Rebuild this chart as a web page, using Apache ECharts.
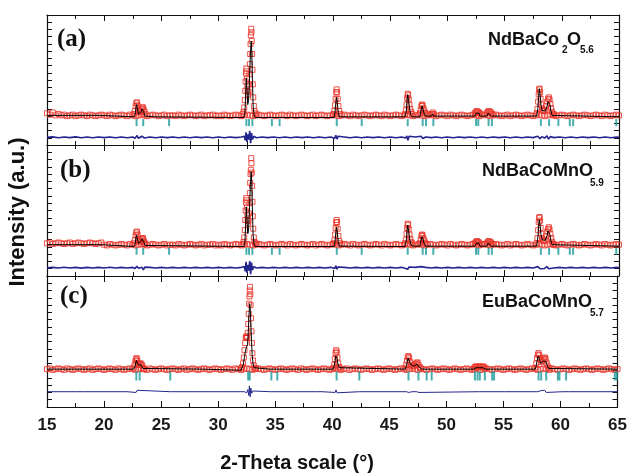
<!DOCTYPE html>
<html>
<head>
<meta charset="utf-8">
<script src="https://cdn.jsdelivr.net/npm/echarts@6/dist/echarts.min.js"></script>
<style>
html,body{margin:0;padding:0;background:#fff}
#chart{width:630px;height:473px}
</style>
</head>
<body>
<div id="chart"></div>
<script>
// Rietveld refinement plots: observed (squares), calculated (black), difference (blue), Bragg positions (teal)
const xTicks = [15, 20, 25, 30, 35, 40, 45, 50, 55, 60, 65];
const bgStart = 15, bgStep = 0.25;

// Observed background counts on the 0.25 deg scan grid, 15..65 deg
const bgA = [
44,42,45,41,43,41,42,40,41,42,40,41,42,41,40,42,41,40,41,42,
41,40,42,41,40,41,42,41,40,42,41,40,41,42,41,40,41,42,41,40,
41,42,40,41,41,40,42,41,40,41,42,41,40,41,42,40,41,41,42,40,
41,40,42,41,40,41,42,41,40,41,42,41,40,41,42,41,40,41,42,41,
40,41,42,41,40,42,41,40,41,42,41,40,41,42,40,41,42,41,40,41,
42,41,40,41,42,41,40,42,41,40,41,42,41,40,41,42,41,40,42,41,
40,41,42,41,40,41,42,41,40,41,42,41,40,41,42,41,40,41,42,41,
40,42,41,40,41,42,41,40,41,42,41,40,41,42,41,40,41,42,41,40,
41,42,40,41,42,41,40,41,42,41,40,41,42,41,40,41,42,41,40,41,
42,41,40,41,42,41,40,41,42,41,40,41,42,41,40,42,41,40,41,42,
41];
const bgB = [
45,46,44,45,46,45,44,45,46,44,45,46,45,44,45,46,45,44,45,46,
43,42,44,43,42,43,44,43,42,44,43,42,43,44,43,42,43,44,43,42,
43,44,42,43,43,42,44,43,42,43,44,43,42,43,44,42,43,43,44,42,
43,42,44,43,42,43,44,43,42,43,44,43,42,43,44,43,42,43,44,43,
42,43,44,43,42,44,43,42,43,44,43,42,43,44,42,43,44,43,42,43,
44,43,42,43,44,43,42,44,43,42,43,44,43,42,43,44,43,42,44,43,
42,43,44,43,42,43,44,43,42,43,44,43,42,43,44,43,42,43,44,43,
42,44,43,42,43,44,43,42,43,44,43,42,43,44,43,42,43,44,43,42,
43,44,42,43,44,43,42,43,44,43,42,43,44,43,42,43,44,43,42,43,
44,43,42,43,44,43,42,43,44,43,42,43,44,43,42,44,43,42,43,44,
43];
const bgC = [
52,53,51,52,53,52,51,53,52,51,52,53,52,51,52,53,51,52,53,52,
51,52,53,52,51,53,52,51,52,53,52,51,52,53,52,51,53,52,51,52,
53,52,51,52,53,52,51,52,53,51,52,53,52,51,52,53,52,51,52,53,
52,51,52,53,52,51,53,52,51,52,53,52,51,52,53,52,51,52,53,52,
51,52,53,52,51,52,53,52,51,53,52,51,52,53,52,51,52,53,52,51,
52,53,52,51,52,53,51,52,53,52,51,52,53,52,51,52,53,52,51,52,
53,52,51,52,53,52,51,52,53,52,51,53,52,51,52,53,52,51,52,53,
52,51,52,53,52,51,52,53,52,51,52,53,51,52,53,52,51,52,53,52,
51,52,53,52,51,52,53,52,51,52,53,52,51,52,53,52,51,53,52,51,
52,53,52,51,52,53,52,51,52,53,52,51,52,53,52,51,52,53,52,51,
52];

// Observed counts across the reflections [2theta, I]
const peaksA = [
[22.6,43],[22.68,47],[22.75,54],[22.81,58],[22.86,59],[22.92,55],[22.98,49],[23.05,46],[23.12,45],[23.2,47],[23.27,50],[23.33,52],[23.39,52],[23.45,49],[23.52,46],[23.6,43],
[32.1,43],[32.18,46],[32.24,52],[32.29,62],[32.33,75],[32.36,88],[32.39,99],[32.42,106],[32.45,102],[32.48,92],[32.51,82],[32.54,74],[32.58,70],[32.62,74],[32.66,84],[32.7,98],[32.73,112],[32.76,126],[32.79,140],[32.82,152],[32.85,161],[32.87,156],[32.9,144],[32.93,126],[32.96,104],[32.99,84],[33.03,66],[33.08,54],[33.14,47],[33.22,44],[33.3,42],
[40.05,43],[40.12,47],[40.18,55],[40.23,64],[40.28,73],[40.32,77],[40.36,73],[40.41,64],[40.47,54],[40.54,47],[40.62,43],
[46.3,43],[46.37,48],[46.43,56],[46.48,65],[46.53,71],[46.57,69],[46.62,63],[46.68,56],[46.75,50],[46.83,46],[46.92,43],
[47.6,44],[47.67,49],[47.73,54],[47.78,56],[47.83,55],[47.9,51],[47.97,48],[48.05,45],[48.15,43],
[48.65,43],[48.72,45],[48.8,43],
[52.4,44],[52.5,46],[52.58,47],[52.68,46],[52.78,45],[52.88,43],[53.45,44],[53.53,46],[53.62,47],[53.72,46],[53.82,45],[53.92,43],
[57.8,44],[57.87,50],[57.93,60],[57.98,70],[58.02,77],[58.06,78],[58.1,73],[58.15,64],[58.2,56],[58.27,51],[58.35,48],[58.45,47],[58.55,49],[58.64,54],[58.72,60],[58.8,64],[58.87,66],[58.93,63],[59.0,57],[59.07,51],[59.15,46],[59.25,43],[59.35,42]
];
const peaksB = [
[22.6,45],[22.68,49],[22.75,56],[22.81,60],[22.86,61],[22.92,57],[22.98,51],[23.05,48],[23.12,47],[23.2,48],[23.27,51],[23.33,52],[23.39,52],[23.45,49],[23.52,46],[23.6,44],
[32.1,44],[32.18,47],[32.24,53],[32.29,63],[32.33,77],[32.36,90],[32.39,101],[32.42,107],[32.45,104],[32.48,94],[32.51,84],[32.54,76],[32.58,72],[32.62,76],[32.66,86],[32.7,100],[32.73,114],[32.76,128],[32.79,140],[32.82,146],[32.85,162],[32.87,155],[32.9,142],[32.93,124],[32.96,102],[32.99,82],[33.03,65],[33.08,53],[33.14,47],[33.22,45],[33.3,44],
[40.05,45],[40.12,49],[40.18,57],[40.23,66],[40.28,74],[40.32,77],[40.36,74],[40.41,65],[40.47,55],[40.54,48],[40.62,45],
[46.3,45],[46.37,50],[46.43,58],[46.48,66],[46.53,72],[46.57,70],[46.62,64],[46.68,57],[46.75,51],[46.83,47],[46.92,45],
[47.6,45],[47.67,50],[47.73,55],[47.78,57],[47.83,56],[47.9,52],[47.97,49],[48.05,46],[48.15,44],
[52.4,45],[52.5,47],[52.58,48],[52.68,47],[52.78,46],[52.88,44],[53.45,45],[53.53,47],[53.62,48],[53.72,47],[53.82,46],[53.92,44],
[57.8,45],[57.87,52],[57.93,63],[57.98,74],[58.02,80],[58.06,81],[58.1,76],[58.15,66],[58.2,58],[58.27,52],[58.35,49],[58.45,48],[58.55,50],[58.64,55],[58.72,61],[58.8,65],[58.87,67],[58.93,64],[59.0,58],[59.07,52],[59.15,47],[59.25,44],[59.35,43]
];
const peaksC = [
[22.6,54],[22.68,58],[22.75,63],[22.81,66],[22.86,67],[22.92,64],[22.98,60],[23.05,58],[23.12,58],[23.2,60],[23.27,59],[23.34,57],[23.42,54],[23.5,52],
[32.0,53],[32.1,55],[32.18,60],[32.25,68],[32.31,78],[32.37,88],[32.42,95],[32.46,97],[32.5,96],[32.55,95],[32.6,102],[32.64,114],[32.68,128],[32.71,142],[32.74,152],[32.77,160],[32.79,165],[32.82,155],[32.85,140],[32.88,122],[32.92,104],[32.96,88],[33.0,74],[33.05,64],[33.12,57],[33.2,54],[33.3,53],
[40.1,54],[40.17,58],[40.23,66],[40.29,74],[40.34,78],[40.39,76],[40.45,68],[40.52,60],[40.6,55],[40.7,53],
[46.4,54],[46.48,58],[46.55,64],[46.62,69],[46.68,70],[46.74,67],[46.82,62],[46.9,58],[47.0,56],[47.1,56],[47.2,57],[47.3,59],[47.4,61],[47.48,61],[47.56,58],[47.65,55],[47.75,53],
[52.4,53],[52.5,55],[52.6,56],[52.7,55],[52.8,55],[52.9,56],[53.0,55],[53.1,55],[53.2,56],[53.3,55],[53.4,53],
[57.8,54],[57.88,60],[57.95,67],[58.02,72],[58.08,74],[58.14,71],[58.2,66],[58.28,62],[58.36,63],[58.45,65],[58.55,67],[58.63,68],[58.7,66],[58.78,61],[58.86,57],[58.95,54],[59.05,53]
];

// Calculated profiles [2theta, I]
const calcA = [[15,41],[19.6,41],[19.6,39],[22.6,39],[22.7,42],[22.78,52],[22.84,56],[22.9,50],[23.0,43],[23.1,42],[23.2,45],[23.3,50],[23.38,51],[23.46,46],[23.55,40],[23.65,39],[24.4,39],[24.4,38],[32.2,38],[32.3,44],[32.36,68],[32.42,93],[32.48,76],[32.55,56],[32.62,62],[32.7,92],[32.78,126],[32.85,144],[32.9,128],[32.96,88],[33.02,54],[33.1,42],[33.2,38],[40.1,38],[40.18,46],[40.26,60],[40.32,66],[40.38,58],[40.46,45],[40.56,39],[46.3,39],[46.4,46],[46.47,60],[46.53,70],[46.6,62],[46.7,50],[46.8,42],[46.9,39],[47.6,39],[47.7,48],[47.78,54],[47.86,50],[47.96,44],[48.1,40],[48.6,40],[48.7,43],[48.8,40],[52.4,40],[52.5,44],[52.6,43],[52.75,44],[52.85,40],[53.45,40],[53.55,44],[53.7,43],[53.85,40],[57.8,40],[57.9,50],[57.97,66],[58.03,78],[58.1,70],[58.18,55],[58.28,48],[58.4,46],[58.55,47],[58.7,53],[58.8,60],[58.88,62],[58.96,56],[59.05,47],[59.15,41],[59.3,39],[65,39]];
const calcB = [[15,43],[19.8,43],[19.8,40.5],[22.6,40.5],[22.7,44],[22.78,53],[22.84,56],[22.9,51],[23.0,45],[23.1,44],[23.2,47],[23.3,51],[23.38,52],[23.46,47],[23.56,42],[23.66,40.5],[32.2,40.5],[32.3,46],[32.36,70],[32.42,95],[32.48,78],[32.55,58],[32.62,63],[32.7,94],[32.78,126],[32.85,143],[32.9,128],[32.96,88],[33.02,55],[33.1,44],[33.2,40.5],[40.1,40.5],[40.18,48],[40.26,61],[40.32,67],[40.38,59],[40.46,47],[40.56,41],[46.3,40.5],[46.4,48],[46.47,61],[46.53,70],[46.6,63],[46.7,51],[46.8,44],[46.9,41],[47.6,41],[47.7,49],[47.78,54],[47.86,51],[47.96,45],[48.1,41],[48.6,41],[48.7,43],[48.8,41],[52.4,41],[52.5,45],[52.6,44],[52.75,45],[52.85,41],[53.45,41],[53.55,45],[53.7,44],[53.85,41],[57.8,41],[57.9,52],[57.97,67],[58.03,77],[58.1,70],[58.18,57],[58.28,50],[58.4,48],[58.55,49],[58.7,55],[58.8,62],[58.88,64],[58.96,57],[59.05,48],[59.15,43],[59.3,41],[65,41]];
const calcC = [[15,52],[22.6,52],[22.7,55],[22.78,61],[22.84,64],[22.9,62],[22.98,58],[23.06,57],[23.14,58],[23.22,58],[23.3,56],[23.4,53],[23.5,52],[28.6,52],[28.6,50.5],[32.0,50.5],[32.1,53],[32.2,58],[32.3,68],[32.4,78],[32.46,81],[32.52,80],[32.58,86],[32.64,104],[32.7,126],[32.76,142],[32.8,138],[32.86,116],[32.92,92],[32.98,72],[33.05,60],[33.15,54],[33.25,52],[34.5,52],[34.6,53],[34.7,52],[35.1,52],[35.2,53],[35.3,52],[40.1,52],[40.18,57],[40.25,64],[40.31,70],[40.36,71],[40.42,66],[40.5,59],[40.6,54],[40.7,52],[46.4,52],[46.5,57],[46.58,63],[46.65,67],[46.7,66],[46.78,62],[46.88,58],[47.0,56],[47.15,56],[47.3,58],[47.42,59],[47.5,58],[47.6,55],[47.72,53],[47.85,52],[52.4,52],[52.5,53],[52.6,54],[52.75,53],[52.9,54],[53.05,53],[53.2,54],[53.35,53],[53.45,52],[57.8,52],[57.9,59],[57.98,66],[58.05,70],[58.1,69],[58.18,64],[58.28,60],[58.38,61],[58.5,63],[58.6,65],[58.66,65],[58.74,62],[58.84,57],[58.95,53],[59.05,52],[65,52]];

// Residuals Iobs - Icalc [2theta, dI]
const diffA = [[15,0],[15.5,0.6],[16,-0.5],[16.5,0.5],[17,-0.4],[17.5,0.6],[18,-0.5],[18.5,0.4],[19,-0.6],[19.5,0.5],[20,-0.4],[20.5,0.5],[21,-0.5],[21.5,0.4],[22,-0.5],[22.5,0.4],[22.7,-1.5],[22.85,2.5],[23.0,-1.2],[23.3,1.5],[23.5,-0.8],[24,0.4],[24.5,-0.5],[25,0.5],[25.5,-0.4],[26,0.5],[26.5,-0.5],[27,0.4],[27.5,-0.5],[28,0.5],[28.5,-0.4],[29,0.5],[29.5,-0.5],[30,0.4],[30.5,-0.5],[31,0.5],[31.5,-0.4],[32,0.5],[32.25,1.5],[32.33,-4],[32.4,7],[32.47,-6],[32.55,4],[32.64,-3],[32.72,9],[32.8,-8],[32.88,6],[32.96,-3],[33.08,1.5],[33.3,-0.5],[33.8,0.5],[34.3,-0.4],[34.8,0.5],[35.3,-0.5],[35.8,0.4],[36.3,-0.5],[36.8,0.5],[37.3,-0.4],[37.8,0.5],[38.3,-0.5],[38.8,0.4],[39.3,-0.5],[39.8,0.5],[40.15,-1.5],[40.25,3],[40.35,-2.5],[40.45,1.5],[40.6,-0.5],[41,0.5],[41.5,-0.5],[42,0.4],[42.5,-0.5],[43,0.5],[43.5,-0.4],[44,0.5],[44.5,-0.5],[45,0.4],[45.5,-0.5],[46,0.5],[46.35,-1],[46.45,2],[46.55,-4],[46.65,1.5],[46.8,-0.5],[47.2,0.5],[47.7,1.5],[47.85,-1.5],[48.1,0.5],[48.6,-0.4],[49,0.5],[49.5,-0.5],[50,0.4],[50.5,-0.5],[51,0.5],[51.5,-0.4],[52,0.5],[52.5,-0.5],[53,0.4],[53.5,-0.5],[54,0.5],[54.5,-0.4],[55,0.5],[55.5,-0.5],[56,0.4],[56.5,-0.5],[57,0.5],[57.5,-0.4],[57.9,1.5],[58.0,3.5],[58.1,-2],[58.25,1],[58.5,-1],[58.7,2],[58.85,-2.5],[59.0,1],[59.3,-0.4],[59.8,0.5],[60.3,-0.5],[60.8,0.4],[61.3,-0.5],[61.8,0.5],[62.3,-0.4],[62.8,0.5],[63.3,-0.5],[63.8,0.4],[64.3,-0.5],[64.8,0.5],[65,0]];
const diffB = [[15,0],[15.5,0.5],[16,-0.5],[16.5,0.6],[17,-0.4],[17.5,0.5],[18,-0.6],[18.5,0.4],[19,-0.5],[19.5,0.5],[20,-0.4],[20.5,0.6],[21,-0.5],[21.5,0.4],[22,-0.5],[22.5,0.4],[22.7,-1],[22.85,2],[23.0,-0.8],[23.3,0.5],[23.42,-3],[23.55,0.8],[24,0.4],[24.5,-0.5],[25,0.5],[25.5,-0.4],[26,0.5],[26.5,-0.5],[27,0.4],[27.5,-0.5],[28,0.5],[28.5,-0.4],[29,0.5],[29.5,-0.5],[30,0.4],[30.5,-0.5],[31,0.5],[31.5,-0.4],[32,0.5],[32.25,1.5],[32.33,-5],[32.4,8],[32.47,-7],[32.55,4],[32.64,-4],[32.72,9],[32.8,-9],[32.88,7],[32.96,-3],[33.08,1.5],[33.3,-0.5],[33.8,0.5],[34.3,-0.4],[34.8,0.5],[35.3,-0.5],[35.8,0.4],[36.3,-0.5],[36.8,0.5],[37.3,-0.4],[37.8,0.5],[38.3,-0.5],[38.8,0.4],[39.3,-0.5],[39.8,0.5],[40.15,-1],[40.25,2.5],[40.35,-2],[40.45,1],[40.6,-0.5],[41,0.5],[41.5,-0.5],[42,0.4],[42.5,-0.5],[43,0.5],[43.5,-0.4],[44,0.5],[44.5,-0.5],[45,0.4],[45.5,-0.5],[46,0.5],[46.35,-1],[46.45,1.5],[46.55,-2],[46.65,1],[46.8,-0.5],[47.2,0.5],[47.7,1.5],[47.85,-1],[48.1,0.5],[48.6,-0.4],[49,0.5],[49.5,-0.5],[50,0.4],[50.5,-0.5],[51,0.5],[51.5,-0.4],[52,0.5],[52.5,-0.5],[53,0.4],[53.5,-0.5],[54,0.5],[54.5,-0.4],[55,0.5],[55.5,-0.5],[56,0.4],[56.5,-0.5],[57,0.5],[57.5,-0.4],[57.9,1.5],[58.0,3],[58.1,-1.5],[58.25,1],[58.5,-1],[58.7,1.5],[58.85,-1.5],[59.0,1],[59.3,-0.4],[59.8,0.5],[60.3,-0.5],[60.8,0.4],[61.3,-0.5],[61.8,0.5],[62.3,-0.4],[62.8,0.5],[63.3,-0.5],[63.8,0.4],[64.3,-0.5],[64.8,0.5],[65,0]];
const diffC = [[15,0],[15.8,0],[15.85,1.5],[15.9,0],[17.0,0],[17.05,1.2],[17.1,0],[17.6,0],[17.65,1.5],[17.7,0],[18.3,0],[18.35,1.2],[18.4,0],[20.6,0],[20.65,1.5],[20.7,0],[21.3,0],[21.35,1.2],[21.4,0],[22.0,0],[22.05,1.5],[22.1,0],[22.8,-1],[22.9,2],[23.0,0],[25.8,0],[25.85,1.5],[25.9,0],[28.3,0],[28.35,1.2],[28.4,0],[29.6,0],[29.65,1.5],[29.7,0],[30.4,0],[30.45,1.5],[30.5,0],[32.3,0],[32.4,2.5],[32.5,-1.5],[32.6,3],[32.68,-5],[32.74,8],[32.8,-7],[32.86,5],[32.94,-2],[33.05,1],[33.2,0],[34.6,0],[34.65,1.5],[34.7,0],[36.8,0],[36.85,1.2],[36.9,0],[38.6,0],[38.65,1.2],[38.7,0],[39.1,0],[39.15,1.5],[39.2,0],[40.25,-1],[40.33,2.5],[40.42,-1.5],[40.55,0],[42.4,0],[42.45,1.2],[42.5,0],[46.5,0],[46.6,1.5],[46.7,-1],[46.8,1],[47.0,0],[47.4,0],[47.5,1.5],[47.6,-1],[47.7,0],[52.9,0],[52.95,1],[53.0,0],[55.1,0],[55.15,1.2],[55.2,0],[58.0,0],[58.05,2],[58.15,-1.5],[58.3,1.5],[58.45,-1],[58.6,2],[58.75,-1],[58.9,0],[60.2,0],[60.25,1.2],[60.3,0],[60.7,0],[60.75,1.2],[60.8,0],[61.8,0],[61.85,1.5],[61.9,0],[65,0]];

// Bragg reflection positions (2theta)
const braggA = [22.83,23.41,25.67,32.43,32.66,32.95,34.66,35.33,40.33,42.51,46.53,47.84,48.13,48.77,52.50,52.70,53.60,53.89,58.17,58.89,59.70,60.70,60.99,64.76];
const braggB = [22.83,23.41,25.67,32.43,32.66,32.95,34.66,35.33,40.33,42.51,46.53,47.84,48.13,48.77,52.50,52.70,53.60,53.89,58.17,58.89,59.70,60.70,60.99,64.76];
const braggC = [22.83,23.12,25.80,32.63,32.77,34.66,35.18,40.38,42.37,46.68,47.55,48.27,48.71,52.50,52.73,52.93,53.37,54.01,54.18,58.08,58.31,58.75,59.77,59.91,60.49,64.76,64.94];

const panelLabels = ['(a)', '(b)', '(c)'];

// Panel geometry and drawing offsets
const panels = [
  {top: 15,  height: 130, bg: bgA, peaks: peaksA, calc: calcA, diff: diffA, bragg: braggA, diffOffset: 10.6, braggLevel: 31,   braggH: 7},
  {top: 145, height: 131, bg: bgB, peaks: peaksB, calc: calcB, diff: diffB, bragg: braggB, diffOffset: 11.4, braggLevel: 34,   braggH: 7},
  {top: 276, height: 131, bg: bgC, peaks: peaksC, calc: calcC, diff: diffC, bragg: braggC, diffOffset: 21,   braggLevel: 42.6, braggH: 9}
];

const OBS = '#e8352a', CALC = '#000000', DIFF = '#23258f', BRAGG = '#1c9a9a';
const AX = '#111';

const grid = [], xAxis = [], yAxis = [], series = [];
panels.forEach((p, g) => {
  grid.push({left: 47, width: 572, top: p.top, height: p.height});
  ['bottom', 'top'].forEach(pos => {
    xAxis.push({
      gridIndex: g, type: 'value', min: xTicks[0], max: xTicks[xTicks.length - 1], interval: 5, position: pos,
      axisLine: {show: true, onZero: false, lineStyle: {color: AX, width: 1.2}},
      axisTick: {show: true, inside: true, length: 6, lineStyle: {color: AX, width: 1}},
      minorTick: {show: true, splitNumber: 2, length: 4, lineStyle: {color: AX, width: 1}},
      splitLine: {show: false},
      axisLabel: {
        show: g === 2 && pos === 'bottom', margin: 10,
        fontFamily: '"Liberation Sans Narrow", "Liberation Sans", Arial, sans-serif',
        fontWeight: 'bold', fontSize: 17, color: '#1a1a1a'
      }
    });
  });
  ['left', 'right'].forEach(pos => {
    yAxis.push({
      gridIndex: g, type: 'value', min: 0, max: 180, interval: 10, position: pos,
      axisLine: {show: true, onZero: false, lineStyle: {color: AX, width: 1.2}},
      axisTick: {show: true, inside: true, length: 5, lineStyle: {color: AX, width: 1}},
      splitLine: {show: false},
      axisLabel: {show: false}
    });
  });
  const xi = 2 * g, yi = 2 * g;
  const obs = p.bg.map((v, i) => [bgStart + i * bgStep, v]).concat(p.peaks);
  series.push({
    type: 'scatter', xAxisIndex: xi, yAxisIndex: yi, data: obs,
    symbol: 'rect', symbolSize: 5, silent: true,
    itemStyle: {color: 'rgba(0,0,0,0)', borderColor: OBS, borderWidth: 1, opacity: 0.85}
  });
  series.push({
    type: 'line', xAxisIndex: xi, yAxisIndex: yi, data: p.calc,
    showSymbol: false, silent: true, lineStyle: {color: CALC, width: 1}
  });
  series.push({
    type: 'line', xAxisIndex: xi, yAxisIndex: yi,
    data: p.diff.map(d => [d[0], d[1] + p.diffOffset]),
    showSymbol: false, silent: true, lineStyle: {color: DIFF, width: g === 2 ? 1 : 1.6}
  });
  series.push({
    type: 'scatter', xAxisIndex: xi, yAxisIndex: yi,
    data: p.bragg.map(t => [t, p.braggLevel]),
    symbol: 'rect', symbolSize: [2, p.braggH], silent: true,
    itemStyle: {color: BRAGG}
  });
});

const SANS = '"Liberation Sans", Arial, Helvetica, sans-serif';
const SERIF = '"Liberation Serif", "Times New Roman", serif';
function txt(text, x, y, font, extra) {
  return {type: 'text', x: x, y: y, style: Object.assign({
    text: text, font: font, fill: '#111', align: 'left', verticalAlign: 'middle'
  }, extra || {})};
}
const graphic = [
  txt(panelLabels[0], 57, 40, 'bold 25px ' + SERIF),
  txt(panelLabels[1], 60, 171, 'bold 25px ' + SERIF),
  txt(panelLabels[2], 60, 297, 'bold 25px ' + SERIF),
  txt('NdBaCo', 488, 40, 'bold 18px ' + SANS),
  txt('2', 562, 50, 'bold 10px ' + SANS),
  txt('O', 567, 40, 'bold 18px ' + SANS),
  txt('5.6', 580, 50, 'bold 10px ' + SANS),
  txt('NdBaCoMnO', 482, 171.5, 'bold 18px ' + SANS),
  txt('5.9', 590, 183.5, 'bold 10px ' + SANS),
  txt('EuBaCoMnO', 482, 301.7, 'bold 18px ' + SANS),
  txt('5.7', 590, 313, 'bold 10px ' + SANS),
  txt('2-Theta scale (\u00b0)', 297, 463, 'bold 20px ' + SANS, {align: 'center'}),
  {type: 'text', x: 18, y: 212, rotation: Math.PI / 2,
   style: {text: 'Intensity (a.u.)', font: 'bold 22px ' + SANS, fill: '#111', align: 'center', verticalAlign: 'middle'}}
];

const chart = echarts.init(document.getElementById('chart'), null, {renderer: 'canvas'});
chart.setOption({
  animation: false,
  backgroundColor: '#fff',
  grid: grid, xAxis: xAxis, yAxis: yAxis, series: series, graphic: graphic
});
</script>
</body>
</html>
